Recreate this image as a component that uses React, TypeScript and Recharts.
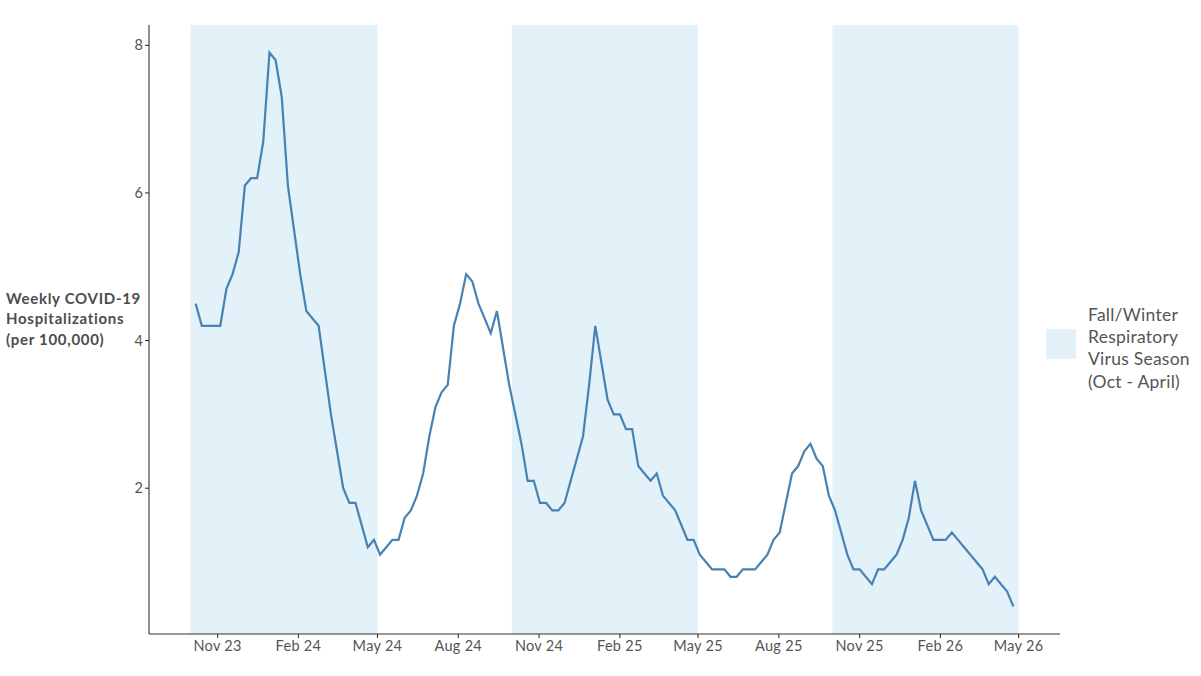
import React from "react";
import { LineChart, Line, XAxis, YAxis, ReferenceArea } from "recharts";

// Week-ending dates (weekly series)
const dates2023 = ["2023-10-07","2023-10-14","2023-10-21","2023-10-28","2023-11-04","2023-11-11","2023-11-18","2023-11-25","2023-12-02","2023-12-09","2023-12-16","2023-12-23","2023-12-30"];
const dates2024 = ["2024-01-06","2024-01-13","2024-01-20","2024-01-27","2024-02-03","2024-02-10","2024-02-17","2024-02-24","2024-03-02","2024-03-09","2024-03-16","2024-03-23","2024-03-30","2024-04-06","2024-04-13","2024-04-20","2024-04-27","2024-05-04","2024-05-11","2024-05-18","2024-05-25","2024-06-01","2024-06-08","2024-06-15","2024-06-22","2024-06-29","2024-07-06","2024-07-13","2024-07-20","2024-07-27","2024-08-03","2024-08-10","2024-08-17","2024-08-24","2024-08-31","2024-09-07","2024-09-14","2024-09-21","2024-09-28","2024-10-05","2024-10-12","2024-10-19","2024-10-26","2024-11-02","2024-11-09","2024-11-16","2024-11-23","2024-11-30","2024-12-07","2024-12-14","2024-12-21","2024-12-28"];
const dates2025 = ["2025-01-04","2025-01-11","2025-01-18","2025-01-25","2025-02-01","2025-02-08","2025-02-15","2025-02-22","2025-03-01","2025-03-08","2025-03-15","2025-03-22","2025-03-29","2025-04-05","2025-04-12","2025-04-19","2025-04-26","2025-05-03","2025-05-10","2025-05-17","2025-05-24","2025-05-31","2025-06-07","2025-06-14","2025-06-21","2025-06-28","2025-07-05","2025-07-12","2025-07-19","2025-07-26","2025-08-02","2025-08-09","2025-08-16","2025-08-23","2025-08-30","2025-09-06","2025-09-13","2025-09-20","2025-09-27","2025-10-04","2025-10-11","2025-10-18","2025-10-25","2025-11-01","2025-11-08","2025-11-15","2025-11-22","2025-11-29","2025-12-06","2025-12-13","2025-12-20","2025-12-27"];
const dates2026 = ["2026-01-03","2026-01-10","2026-01-17","2026-01-24","2026-01-31","2026-02-07","2026-02-14","2026-02-21","2026-02-28","2026-03-07","2026-03-14","2026-03-21","2026-03-28","2026-04-04","2026-04-11","2026-04-18","2026-04-25"];

// Weekly COVID-19 hospitalizations per 100,000
const values2023 = [4.5,4.2,4.2,4.2,4.2,4.7,4.9,5.2,6.1,6.2,6.2,6.7,7.9];
const values2024 = [7.8,7.3,6.1,5.5,4.9,4.4,4.3,4.2,3.6,3.0,2.5,2.0,1.8,1.8,1.5,1.2,1.3,1.1,1.2,1.3,1.3,1.6,1.7,1.9,2.2,2.7,3.1,3.3,3.4,4.2,4.5,4.9,4.8,4.5,4.3,4.1,4.4,3.9,3.4,3.0,2.6,2.1,2.1,1.8,1.8,1.7,1.7,1.8,2.1,2.4,2.7,3.4];
const values2025 = [4.2,3.7,3.2,3.0,3.0,2.8,2.8,2.3,2.2,2.1,2.2,1.9,1.8,1.7,1.5,1.3,1.3,1.1,1.0,0.9,0.9,0.9,0.8,0.8,0.9,0.9,0.9,1.0,1.1,1.3,1.4,1.8,2.2,2.3,2.5,2.6,2.4,2.3,1.9,1.7,1.4,1.1,0.9,0.9,0.8,0.7,0.9,0.9,1.0,1.1,1.3,1.6];
const values2026 = [2.1,1.7,1.5,1.3,1.3,1.3,1.4,1.3,1.2,1.1,1.0,0.9,0.7,0.8,0.7,0.6,0.4];

// Fall/Winter respiratory virus seasons (Oct - April)
const seasonStarts = ["2023-10-01","2024-10-01","2025-10-01"];
const seasonEnds = ["2024-05-01","2025-05-01","2026-05-01"];

// Axis ticks
const xTickDates = ["2023-11-01","2024-02-01","2024-05-01","2024-08-01","2024-11-01","2025-02-01","2025-05-01","2025-08-01","2025-11-01","2026-02-01","2026-05-01"];
const yTicks = [2,4,6,8];
const monthNames = ["Jan","Feb","Mar","Apr","May","Jun","Jul","Aug","Sep","Oct","Nov","Dec"];

const yLabelLines = ["Weekly COVID-19","Hospitalizations","(per 100,000)"];
const legendLines = ["Fall/Winter","Respiratory","Virus Season","(Oct - April)"];

const toT = (s: string) => Date.parse(s + "T00:00:00Z");

const allDates = [...dates2023, ...dates2024, ...dates2025, ...dates2026];
const allValues = [...values2023, ...values2024, ...values2025, ...values2026];
const data = allDates.map((d, i) => ({ t: toT(d), v: allValues[i] }));

const rangeStart = toT(seasonStarts[0]);
const rangeEnd = toT(seasonEnds[seasonEnds.length - 1]);
const pad = (rangeEnd - rangeStart) * 0.05;
const xDomain = [rangeStart - pad, rangeEnd + pad];

const fmtTick = (t: number) => {
  const d = new Date(t);
  return `${monthNames[d.getUTCMonth()]} ${String(d.getUTCFullYear()).slice(2)}`;
};

const FONT = "Lato, 'Open Sans', sans-serif";
const SHADE = "#e3f1f8";
const AXIS = "#333333";
const TEXT = "#4d4d4d";

export default function App() {
  return (
    <div style={{ position: "absolute", left: 0, top: 0, width: 1201, height: 676, background: "#fff", fontFamily: FONT }}>
      <LineChart
        width={1201}
        height={676}
        data={data}
        margin={{ top: 25, right: 141, bottom: 12, left: 89 }}
      >
        {seasonStarts.map((s, i) => (
          <ReferenceArea
            key={s}
            x1={toT(s)}
            x2={toT(seasonEnds[i])}
            fill={SHADE}
            fillOpacity={1}
            stroke="none"
            ifOverflow="hidden"
          />
        ))}
        <XAxis
          dataKey="t"
          type="number"
          scale="time"
          domain={xDomain}
          allowDataOverflow
          ticks={xTickDates.map(toT)}
          tickFormatter={fmtTick}
          height={30}
          tickSize={4}
          tickMargin={3}
          axisLine={{ stroke: AXIS, strokeWidth: 1.1 }}
          tickLine={{ stroke: AXIS, strokeWidth: 1.1 }}
          tick={{ fill: "#555555", fontSize: 14.5, fontFamily: FONT, letterSpacing: 0.3 }}
        />
        <YAxis
          type="number"
          domain={[0.025, 8.275]}
          allowDataOverflow
          ticks={yTicks}
          width={60}
          tickSize={4}
          tickMargin={2}
          axisLine={{ stroke: AXIS, strokeWidth: 1.1 }}
          tickLine={{ stroke: AXIS, strokeWidth: 1.1 }}
          tick={{ fill: "#555555", fontSize: 14.5, fontFamily: FONT }}
        />
        <Line
          type="linear"
          dataKey="v"
          stroke="#4682b4"
          strokeWidth={2.2}
          dot={false}
          activeDot={false}
          isAnimationActive={false}
        />
      </LineChart>
      <svg
        width={1201}
        height={676}
        style={{ position: "absolute", left: 0, top: 0, pointerEvents: "none" }}
      >
        {yLabelLines.map((line, i) => (
          <text key={line} x={6} y={303.5 + i * 20.5} fontFamily={FONT} fontWeight={700} fontSize={15} letterSpacing={0.7} fill={TEXT}>
            {line}
          </text>
        ))}
        <rect x={1046} y={329} width={30} height={30} fill={SHADE} />
        {legendLines.map((line, i) => (
          <text key={line} x={1088} y={321 + i * 22.2} fontFamily={FONT} fontSize={17.5} letterSpacing={0.25} fill="#555555">
            {line}
          </text>
        ))}
      </svg>
    </div>
  );
}
